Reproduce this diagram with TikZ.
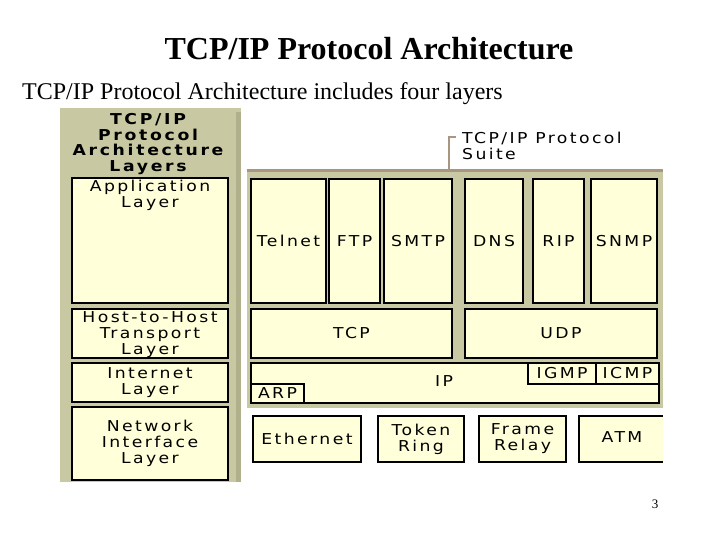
\documentclass[tikz,border=0pt]{standalone}
\usepackage{fontspec}
\setmainfont{Liberation Serif}
\newfontfamily\pix[LetterSpace=16,FakeStretch=1.15]{DejaVu Sans}
\newfontfamily\pixb[LetterSpace=18,FakeStretch=1.15]{DejaVu Sans Bold}
\definecolor{panel}{RGB}{200,200,162}
\definecolor{panelshade}{RGB}{176,176,140}
\definecolor{boxfill}{RGB}{255,255,218}
\definecolor{brack}{RGB}{168,150,128}
\tikzset{
  box/.style={draw=black, line width=1.3pt, fill=boxfill, inner sep=0pt, outer sep=0pt, anchor=north west,
              font=\pix\fontsize{15}{16}\selectfont, align=center},
  lbl/.style={inner sep=0pt, font=\pix\fontsize{15}{16}\selectfont, align=center},
}
\begin{document}
\begin{tikzpicture}[x=1pt,y=-1pt]
\useasboundingbox (0,0) rectangle (720,540);
% titles
\node[font=\bfseries\fontsize{32}{34}\selectfont, anchor=base] (title) at (369,60) {TCP/IP Protocol Architecture};
\node[font=\fontsize{24}{26}\selectfont, anchor=base west, inner sep=0pt] (sub) at (22,100) {TCP/IP Protocol Architecture includes four layers};
% left panel
\fill[panel] (60,108) rectangle (241,482);
\fill[panelshade] (236,112) rectangle (241,482);
\node[font=\pixb\fontsize{15}{15.8}\selectfont, align=center, anchor=north, inner sep=0pt] (hdr) at (148,113)
  {TCP/IP\\Protocol\\Architecture\\Layers};
\node[box, minimum width=156pt, minimum height=125pt] (app) at (72,178) {};
\node[lbl, anchor=north] (applbl) at (150,180) {Application\\Layer};
\node[box, minimum width=156pt, minimum height=49pt] (host) at (72,309) {};
\node[lbl] (hostlbl) at (150,335) {Host-to-Host\\Transport\\Layer};
\node[box, minimum width=156pt, minimum height=39pt] (inet) at (72,363) {Internet\\Layer};
\node[box, minimum width=156pt, minimum height=73pt] (netif) at (72,407) {Network\\Interface\\Layer};
% right panel
\fill[panel] (247,170) rectangle (663,408);
\draw[brack, line width=2.2pt] (247,170.5) -- (663,170.5);
\coordinate (bt) at (449,137);
\coordinate (bb) at (449,170);
\coordinate (bk) at (456,137);
\draw[brack, line width=2.2pt] (bb) -- (bt) -- (bk);
\node[lbl, anchor=north west, align=left] (suite) at (462,132) {TCP/IP Protocol\\Suite};
% application protocols
\node[box, minimum width=75pt, minimum height=124pt] (telnet) at (251,179) {Telnet};
\node[box, minimum width=51pt, minimum height=124pt] (ftp) at (329,179) {FTP};
\node[box, minimum width=68pt, minimum height=124pt] (smtp) at (384,179) {SMTP};
\node[box, minimum width=58pt, minimum height=124pt] (dns) at (465,179) {DNS};
\node[box, minimum width=51pt, minimum height=124pt] (rip) at (533,179) {RIP};
\node[box, minimum width=66pt, minimum height=124pt] (snmp) at (591,179) {SNMP};
% transport
\node[box, minimum width=201pt, minimum height=49pt] (tcp) at (251,309) {TCP};
\node[box, minimum width=192pt, minimum height=49pt] (udp) at (465,309) {UDP};
% internet
\node[box, minimum width=408pt, minimum height=40pt] (ip) at (251,363) {};
\node[lbl] (iplbl) at (444,381) {IP};
\node[box, minimum width=53pt, minimum height=19pt] (arp) at (251,384) {ARP};
\node[box, minimum width=68pt, minimum height=21pt] (igmp) at (528,363) {IGMP};
\node[box, minimum width=63pt, minimum height=21pt] (icmp) at (596,363) {ICMP};
% network interface
\node[box, minimum width=108pt, minimum height=46pt] (eth) at (253,416) {Ethernet};
\node[box, minimum width=86pt, minimum height=46pt] (token) at (378,416) {Token\\Ring};
\node[box, minimum width=87pt, minimum height=46pt] (frame) at (479,416) {Frame\\Relay};
\fill[boxfill] (579,416) rectangle (663,462);
\draw[black, line width=1.3pt] (663,416) -- (579,416) -- (579,462) -- (663,462);
\node[lbl] (atm) at (622,437) {ATM};
% page number
\node[font=\fontsize{13}{14}\selectfont, inner sep=0pt] (pg) at (655,504) {3};
\end{tikzpicture}
\end{document}
